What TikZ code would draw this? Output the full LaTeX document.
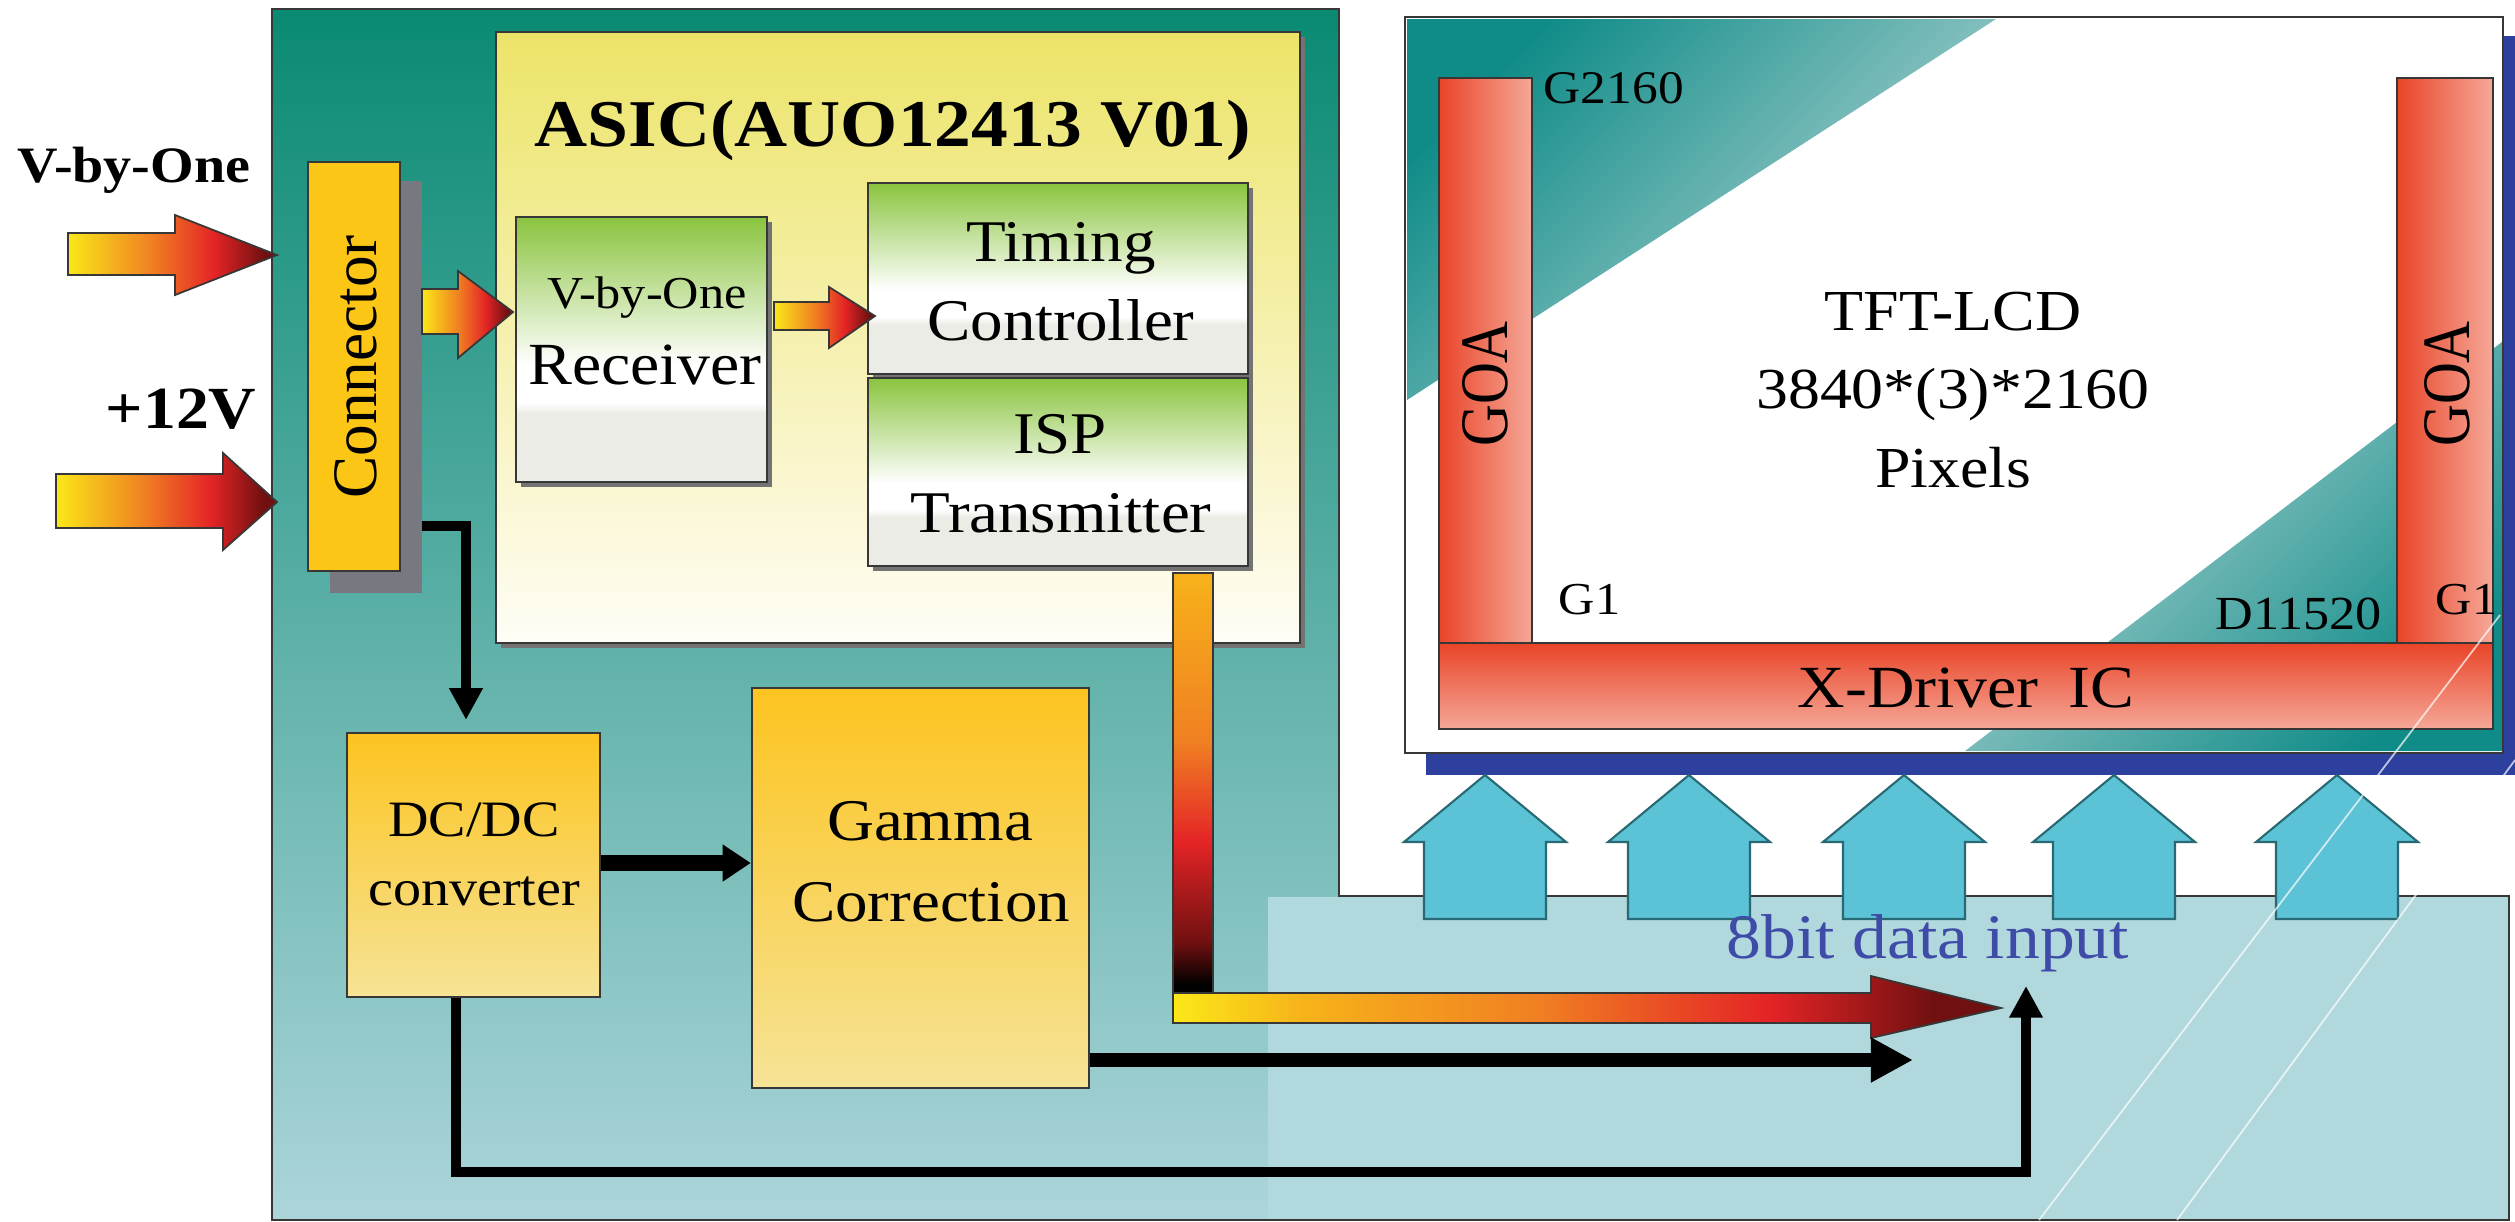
\documentclass[tikz,border=0pt]{standalone}
\usepackage{graphicx}
\usepackage{fontspec}
\setmainfont{Liberation Serif}[FakeStretch=1.1]
\newfontfamily\rotfont{Liberation Serif}
\usetikzlibrary{arrows.meta}
\newcommand{\myfs}[1]{\fontsize{#1}{#1}\selectfont}
\definecolor{tealtop}{RGB}{10,138,114}
\definecolor{tealbot}{RGB}{172,213,218}
\definecolor{lightpanel}{RGB}{176,216,221}
\definecolor{edgegray}{RGB}{55,55,55}
\definecolor{asicy}{RGB}{236,228,104}
\definecolor{asicw}{RGB}{255,253,246}
\definecolor{bgreen}{RGB}{138,196,62}
\definecolor{bgray}{RGB}{236,236,230}
\definecolor{connor}{RGB}{252,198,22}
\definecolor{shgray}{RGB}{120,121,128}
\definecolor{boxtop}{RGB}{252,196,32}
\definecolor{boxbot}{RGB}{246,227,150}
\definecolor{hy}{RGB}{250,232,24}
\definecolor{hyo}{RGB}{247,178,26}
\definecolor{ho}{RGB}{240,128,34}
\definecolor{hr}{RGB}{228,36,38}
\definecolor{hd}{RGB}{112,16,16}
\definecolor{goared}{RGB}{233,68,40}
\definecolor{goapink}{RGB}{245,168,152}
\definecolor{lcdteal}{RGB}{16,140,136}
\definecolor{lcdlight}{RGB}{190,218,218}
\definecolor{lcdblue}{RGB}{46,64,158}
\definecolor{cyanf}{RGB}{92,194,214}
\definecolor{cyand}{RGB}{40,105,115}
\definecolor{bluetxt}{RGB}{62,76,168}
\pgfdeclareverticalshading{greenbox}{100bp}{color(0bp)=(bgray); color(38bp)=(bgray); color(40bp)=(white); color(47bp)=(white); color(75bp)=(bgreen); color(100bp)=(bgreen)}
\pgfdeclarehorizontalshading{hotarrow}{100bp}{color(0bp)=(hy); color(25bp)=(hy); color(45bp)=(ho); color(60bp)=(hr); color(72bp)=(hd); color(100bp)=(hd)}
\pgfdeclarehorizontalshading{hotlong}{100bp}{color(0bp)=(hy); color(25bp)=(hy); color(33bp)=(hyo); color(47bp)=(ho); color(61bp)=(hr); color(71bp)=(hd); color(100bp)=(hd)}
\pgfdeclareverticalshading{hotbar}{100bp}{color(0bp)=(black); color(26bp)=(black); color(31bp)=(hd); color(43bp)=(hr); color(55bp)=(ho); color(75bp)=(hyo); color(100bp)=(hyo)}
\begin{document}
\begin{tikzpicture}[x=0.01cm, y=-0.01cm,
  edge/.style={draw=edgegray, line width=0.6pt},
  lbl/.style={inner sep=0pt, anchor=base},
  gbox/.style={edge, shade, shading=greenbox, inner sep=0pt},
  obox/.style={edge, top color=boxtop, bottom color=boxbot, inner sep=0pt},
  hot/.style={draw=edgegray, line width=0.5pt, shade, shading=hotarrow},
  blk/.style={line width=2.85pt, -{Triangle[length=9pt,width=9pt]}},
  cyanarrow/.style={fill=cyanf, draw=cyand, line width=0.6pt},
  boxshadow/.style={fill=black!55}
]
\useasboundingbox (0,0) rectangle (2515,1221);

% board
\path[top color=tealtop, bottom color=tealbot] (272,9) -- (1339,9) -- (1339,896) -- (2509,896) -- (2509,1220) -- (272,1220) -- cycle;
\fill[lightpanel] (1268,897) rectangle (2509,1220);
\draw[edge] (272,9) -- (1339,9) -- (1339,896) -- (2509,896) -- (2509,1220) -- (272,1220) -- cycle;

% ASIC
\fill[boxshadow] (501,37) rectangle (1305,648);
\node[edge, top color=asicy, bottom color=asicw, minimum width=8.04cm, minimum height=6.11cm, inner sep=0pt] (asic) at (898,337.5) {};
\node[lbl, font=\bfseries\myfs{19}] (asictitle) at (893,146) {ASIC(AUO12413 V01)};

% receiver
\fill[boxshadow] (521,222) rectangle (772,487);
\node[gbox, minimum width=2.51cm, minimum height=2.65cm] (rx) at (641.5,349.5) {};
\node[lbl, font=\myfs{13}] (rxa) at (647,308) {V-by-One};
\node[lbl, font=\myfs{17}] (rxb) at (645,384) {Receiver};

% timing controller / ISP transmitter
\fill[boxshadow] (873,188) rectangle (1253,571);
\node[gbox, minimum width=3.80cm, minimum height=1.91cm] (tc) at (1058,278.5) {};
\node[gbox, minimum width=3.80cm, minimum height=1.88cm] (isp) at (1058,472) {};
\node[lbl, font=\myfs{16.8}] (tca) at (1061,261) {Timing};
\node[lbl, font=\myfs{16.8}] (tcb) at (1061,340) {Controller};
\node[lbl, font=\myfs{16.8}] (ispa) at (1060,453) {ISP};
\node[lbl, font=\myfs{16.8}] (ispb) at (1061,532) {Transmitter};

% connector
\fill[shgray] (330,181) rectangle (422,593);
\node[edge, fill=connor, minimum width=0.92cm, minimum height=4.09cm, inner sep=0pt] (conn) at (354,366.5) {};
\node[rotate=90, inner sep=0pt, font=\rotfont\myfs{18}] (conntxt) at (356,367) {Connector};

% DC/DC and Gamma
\node[obox, minimum width=2.53cm, minimum height=2.64cm] (dc) at (473.5,865) {};
\node[obox, minimum width=3.37cm, minimum height=4.00cm] (gm) at (920.5,888) {};
\node[lbl, font=\myfs{14.5}] (dca) at (474,836) {DC/DC};
\node[lbl, font=\myfs{14.5}] (dcb) at (474,905) {converter};
\node[lbl, font=\myfs{16.8}] (gma) at (930,840) {Gamma};
\node[lbl, font=\myfs{16.8}] (gmb) at (931,921) {Correction};

% input labels and block arrows
\node[lbl, anchor=base west, font=\bfseries\myfs{14.5}] (vbo) at (17,182) {V-by-One};
\node[lbl, anchor=base west, font=\bfseries\myfs{17}] (p12) at (105,428) {+12V};
\path[hot] (68,233) -- (175,233) -- (175,215) -- (277,255) -- (175,295) -- (175,275) -- (68,275) -- cycle;
\path[hot] (56,474) -- (223,474) -- (223,453) -- (277,502) -- (223,550) -- (223,528) -- (56,528) -- cycle;
\path[hot] (422,289) -- (458,289) -- (458,271) -- (513,312) -- (458,358) -- (458,334) -- (422,334) -- cycle;
\path[hot] (774,302) -- (829,302) -- (829,287) -- (875,316) -- (829,348) -- (829,330) -- (774,330) -- cycle;

% ISP output bar and long arrow
\path[draw=edgegray, line width=0.5pt, shade, shading=hotbar] (1173,573) rectangle (1213,993);
\path[draw=edgegray, line width=0.5pt, shade, shading=hotlong] (1173,993) -- (1871,993) -- (1871,976) -- (2001,1008) -- (1871,1038) -- (1871,1023) -- (1173,1023) -- cycle;

% black connectors
\coordinate (cs) at (422,526);
\draw[blk] (cs) -| ([xshift=-0.075cm, yshift=0.12cm]dc.north);
\draw[line width=4.5pt, -{Triangle[length=8pt,width=10pt]}] (dc.east |- 0,863) -- (gm.west |- 0,863);
\coordinate (g8) at (1913,1060);
\draw[line width=4pt, -{Triangle[length=12pt,width=12pt]}] (gm.east |- 0,1060) -- (g8);
\coordinate (in8) at (2026,986);
\draw[blk] (dc.south -| 456,0) -- (456,1172) -| (in8);

% LCD panel
\fill[lcdblue] (1426,36) rectangle (2515,775);
\node[edge, fill=white, minimum width=10.98cm, minimum height=7.35cm, inner sep=0pt] (lcd) at (1954,385) {};
\begin{scope}
\clip (1407,19) rectangle (2502,751);
\path[top color=lcdteal, bottom color=lcdlight, shading angle=45] (1407,19) -- (1996,19) -- (1407,400) -- cycle;
\path[top color=lcdlight, bottom color=lcdteal, shading angle=45] (2502,342) -- (2502,751) -- (1965,751) -- cycle;
\end{scope}
\node[edge, left color=goared, right color=goapink, minimum width=0.93cm, minimum height=5.65cm, inner sep=0pt] (goaL) at (1485.5,360.5) {};
\node[edge, left color=goared, right color=goapink, minimum width=0.96cm, minimum height=5.65cm, inner sep=0pt] (goaR) at (2445,360.5) {};
\node[edge, top color=goared, bottom color=goapink, minimum width=10.54cm, minimum height=0.86cm, inner sep=0pt] (xdrv) at (1966,686) {};
\node[rotate=90, inner sep=0pt, font=\rotfont\myfs{16.5}] (goaLt) at (1485,384) {\scalebox{1}[1.17]{GOA}};
\node[rotate=90, inner sep=0pt, font=\rotfont\myfs{16.5}] (goaRt) at (2447,384) {\scalebox{1}[1.17]{GOA}};
\node[lbl, anchor=base west, font=\myfs{13.3}] (g2160) at (1543,103) {G2160};
\node[lbl, font=\myfs{16.5}] (tft) at (1953,330) {TFT-LCD};
\node[lbl, font=\myfs{16.5}] (res) at (1953,408) {3840*(3)*2160};
\node[lbl, font=\myfs{16.5}] (pix) at (1953,487) {Pixels};
\node[lbl, anchor=base west, font=\myfs{13}] (g1l) at (1558,614) {G1};
\node[lbl, anchor=base west, font=\myfs{13.5}] (d115) at (2215,629) {D11520};
\node[lbl, anchor=base west, font=\myfs{13}] (g1r) at (2435,614) {G1};
\node[lbl, font=\myfs{17}] (xdt) at (1966,707) {X-Driver\enspace IC};

% data input arrows
\foreach \cx in {1485,1689,1904,2114,2337} {
  \path[cyanarrow] (\cx,775) -- (\cx+81,842) -- (\cx+61,842) -- (\cx+61,919) -- (\cx-61,919) -- (\cx-61,842) -- (\cx-81,842) -- cycle;
}
\node[lbl, text=bluetxt, font=\myfs{18}] (in8txt) at (1928,958) {8bit data input};

% faint white diagonal lines
\draw[white, line width=0.5pt, opacity=0.7] (2039,1220) -- (2500,615);
\draw[white, line width=0.5pt, opacity=0.7] (2177,1220) -- (2515,760);
\end{tikzpicture}
\end{document}
